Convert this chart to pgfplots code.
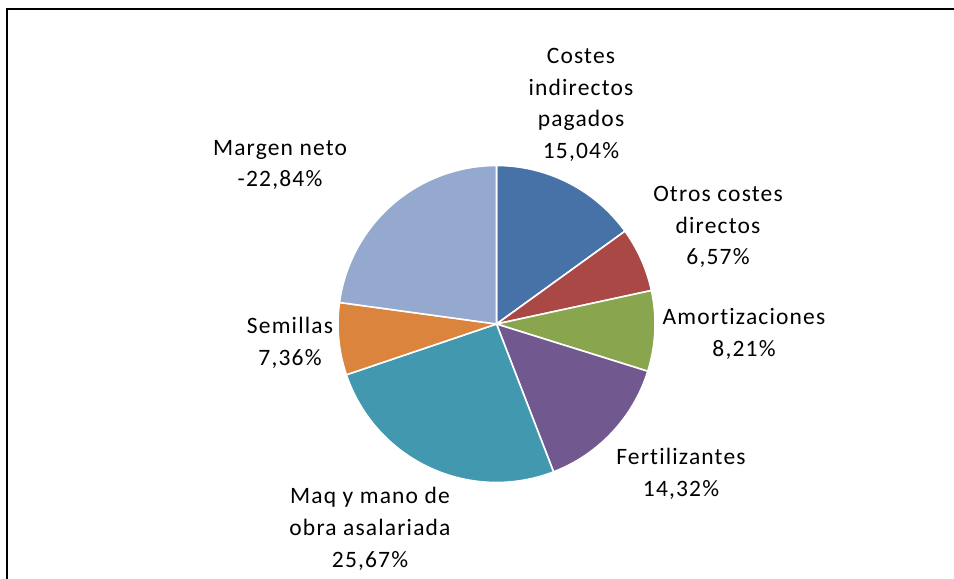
\documentclass[border=0pt]{standalone}
\usepackage{pgfplots}
\pgfplotsset{compat=1.18}
\usepackage{fontspec}
\setmainfont{Carlito}[LetterSpace=5, Ligatures={NoCommon, NoRare, NoContextual}]
\definecolor{cBlue}{RGB}{70,114,167}
\definecolor{cRed}{RGB}{170,72,70}
\definecolor{cGreen}{RGB}{137,166,78}
\definecolor{cPurple}{RGB}{113,88,143}
\definecolor{cAqua}{RGB}{65,152,175}
\definecolor{cOrange}{RGB}{219,132,61}
\definecolor{cLight}{RGB}{149,169,206}
\tikzset{lbl/.style={font=\fontsize{23.5bp}{31.7bp}\selectfont, align=center, text=black, inner sep=0pt}}
% slice: start and end as cumulative percentages (shares: 15.04, 6.57, 8.21, 14.32, 25.67, 7.36, 22.84)
\newcommand{\slice}[3]{%
  \addplot[fill=#3, draw=white, line width=1.6bp, line join=round, domain=#1:#2, samples=80, variable=\t]
    ({496.5+158.5*sin(3.6*\t)},{255+158.5*cos(3.6*\t)}) -- (axis cs:496.5,255) -- cycle;}
\begin{document}
\begin{tikzpicture}
\begin{axis}[
  scale only axis, width=954bp, height=579bp,
  xmin=0, xmax=954, ymin=0, ymax=579,
  hide axis, clip=false,
]
\addplot[black, line width=2.6bp, line cap=rect] coordinates {(7,0) (7,570) (954,570)};
\slice{0}{15.04}{cBlue}
\slice{15.04}{21.61}{cRed}
\slice{21.61}{29.82}{cGreen}
\slice{29.82}{44.14}{cPurple}
\slice{44.14}{69.81}{cAqua}
\slice{69.81}{77.17}{cOrange}
\slice{77.17}{100}{cLight}
\node[lbl] at (axis cs:581,474) {Costes\\indirectos\\pagados\\15,04\%};
\node[lbl] at (axis cs:718,352) {Otros costes\\directos\\6,57\%};
\node[lbl] at (axis cs:744,245) {Amortizaciones\\8,21\%};
\node[lbl] at (axis cs:681,105) {Fertilizantes\\14,32\%};
\node[lbl] at (axis cs:370,50) {Maq y mano de\\obra asalariada\\25,67\%};
\node[lbl] at (axis cs:290,236) {Semillas\\7,36\%};
\node[lbl] at (axis cs:280,414) {Margen neto\\-22,84\%};
\end{axis}
\pgfresetboundingbox
\path[use as bounding box] (0,0) rectangle (954bp,579bp);
\end{tikzpicture}
\end{document}
